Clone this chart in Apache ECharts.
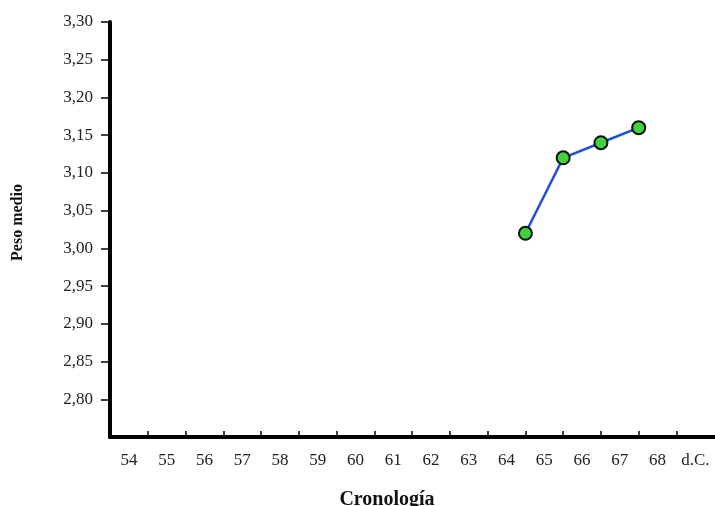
<!DOCTYPE html>
<html>
<head>
<meta charset="utf-8">
<script src="https://cdn.jsdelivr.net/npm/echarts@6/dist/echarts.min.js"></script>
<style>html,body{margin:0;padding:0;background:#fff;}#c{width:715px;height:506px;}</style>
</head>
<body>
<div id="c"></div>
<script>
// Tick labels on the x axis (one band per year, plus era suffix)
const xLabels = ['54','55','56','57','58','59','60','61','62','63','64','65','66','67','68','d.C.'];
// Plotted years (points sit at the start of each year band) and mean weights
const years = [65, 66, 67, 68];
const pesoMedio = [3.02, 3.12, 3.14, 3.16];

const serif = '"Liberation Serif", "DejaVu Serif", serif';
const chart = echarts.init(document.getElementById('c'));
const catData = xLabels.concat([' ']);   // one extra band runs off the canvas

chart.setOption({
  animation: false,
  backgroundColor: '#fff',
  grid: { left: 110, right: -37, top: 22, bottom: 69, containLabel: false, outerBoundsMode: 'none' },
  xAxis: [
    {
      type: 'category',
      data: catData,
      boundaryGap: true,
      position: 'bottom',
      name: 'Cronología',
      nameLocation: 'middle',
      nameGap: 53,
      nameTextStyle: { fontFamily: serif, fontWeight: 'bold', fontSize: 20, color: '#111', padding: [0, 88, 0, 0] },
      axisLine: { show: true, lineStyle: { color: '#000', width: 4 } },
      axisTick: {
        show: true, inside: true, length: 6,
        lineStyle: { color: '#000', width: 1.5 },
        interval: function (i) { return i >= 1 && i <= 15; }
      },
      axisLabel: { fontFamily: serif, fontSize: 17, color: '#222', margin: 15, interval: 0 },
      splitLine: { show: false }
    },
    {
      type: 'value',
      min: 54,
      max: 71,
      show: false,
      splitLine: { show: false }
    }
  ],
  yAxis: {
    type: 'value',
    min: 2.75,
    max: 3.30,
    interval: 0.05,
    name: 'Peso medio',
    nameLocation: 'middle',
    nameGap: 84,
    nameTextStyle: { fontFamily: serif, fontWeight: 'bold', fontSize: 16, color: '#111', padding: [0, 0, 0, 14] },
    axisLine: { show: true, lineStyle: { color: '#000', width: 4 } },
    axisTick: { show: true, inside: false, length: 9, lineStyle: { color: '#000', width: 1.5 } },
    axisLabel: {
      fontFamily: serif, fontSize: 17, color: '#222', margin: 17,
      showMinLabel: false,
      formatter: function (v) { return v.toFixed(2).replace('.', ','); }
    },
    splitLine: { show: false }
  },
  series: [{
    type: 'line',
    xAxisIndex: 1,
    data: years.map((y, i) => [y, pesoMedio[i]]),
    symbol: 'circle',
    symbolSize: 13,
    lineStyle: { color: '#2250d8', width: 2.5 },
    itemStyle: { color: '#3fd43f', borderColor: '#111', borderWidth: 2 }
  }]
});
</script>
</body>
</html>
